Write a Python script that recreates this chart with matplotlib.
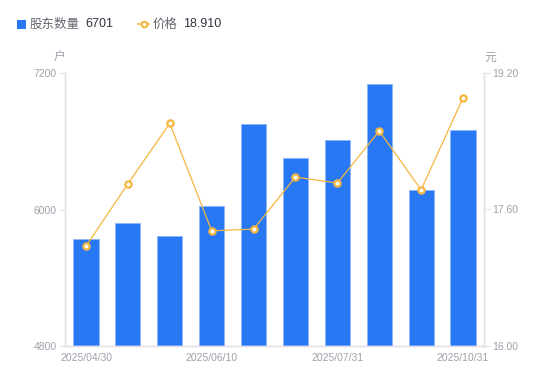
import matplotlib
matplotlib.use("Agg")
import matplotlib.pyplot as plt
import numpy
from matplotlib.lines import Line2D
from matplotlib.patches import Rectangle

dates = ["2025/04/30", "2025/05/20", "2025/05/31", "2025/06/10", "2025/06/20",
         "2025/06/30", "2025/07/31", "2025/08/31", "2025/09/30", "2025/10/31"]
holders = [5740, 5880, 5765, 6030, 6752, 6455, 6610, 7105, 6170, 6701]
price = [17.17, 17.90, 18.61, 17.35, 17.37, 17.98, 17.91, 18.52, 17.83, 18.91]
shown_dates = ["2025/04/30", "2025/06/10", "2025/07/31", "2025/10/31"]

blue = "#2878f5"
orange = "#f5b53f"
axis_grey = "#e3e3e6"
tick_grey = "#a0a0aa"
num_font = ["Liberation Sans", "DejaVu Sans"]
cjk_font = ["Noto Sans CJK SC", "DejaVu Sans"]

fig = plt.figure(figsize=(5.5, 3.81), dpi=100)
ax = fig.add_axes([65/550, 1-346/381, 419/550, 273/381])
ax2 = ax.twinx()

x = numpy.arange(len(dates))
ax.bar(x, holders, width=0.6, color=blue, edgecolor="#8db5f7", linewidth=0.6, zorder=2)
ax.set_xlim(-0.5, len(dates)-0.5)
ax.set_ylim(4800, 7200)
ax.set_yticks([4800, 6000, 7200])

ax2.plot(x, price, color=orange, linewidth=0.9, marker="o", markersize=4.5,
         markerfacecolor="white", markeredgecolor=orange, markeredgewidth=1.6, zorder=3)
ax2.set_ylim(16.0, 19.2)
ax2.set_yticks([16.0, 17.6, 19.2])
ax2.set_yticklabels(["%.2f" % v for v in [16.0, 17.6, 19.2]])

ax.set_xticks([dates.index(d) for d in shown_dates])
ax.set_xticklabels(shown_dates)

for a in (ax, ax2):
    a.spines["top"].set_visible(False)
    for side in ("left", "right", "bottom"):
        a.spines[side].set_color(axis_grey)
        a.spines[side].set_linewidth(1.0)
    a.tick_params(axis="y", colors=axis_grey, labelcolor=tick_grey, length=4, width=0.8,
                  labelsize=7.5, pad=2)
    for lab in a.get_yticklabels():
        lab.set_family(num_font)
ax.tick_params(axis="x", length=0, labelcolor=tick_grey, labelsize=7.5, pad=5)
for lab in ax.get_xticklabels():
    lab.set_family(num_font)

fig.text(59/550, 1-57/381, "户", family=cjk_font, fontsize=8.5, color=tick_grey,
         ha="center", va="center")
fig.text(490/550, 1-57/381, "元", family=cjk_font, fontsize=8.5, color=tick_grey,
         ha="center", va="center")

# legend drawn by hand across the top
ly = 1-24/381
fig.patches.append(Rectangle((17/550, ly-4.5/381), 9/550, 9/381, transform=fig.transFigure,
                             facecolor=blue, edgecolor="none"))
fig.text(30/550, ly, "股东数量", family=cjk_font, fontsize=9, color="#666670", va="center")
fig.text(85/550, ly, "6701", family=num_font, fontsize=9, color="#333340", va="center")
fig.lines.append(Line2D([138/550, 149/550], [ly, ly], transform=fig.transFigure,
                        color=orange, linewidth=1.2))
fig.lines.append(Line2D([143.5/550], [ly], transform=fig.transFigure, marker="o",
                        markersize=4, markerfacecolor="white", markeredgecolor=orange,
                        markeredgewidth=1.5))
fig.text(153/550, ly, "价格", family=cjk_font, fontsize=9, color="#666670", va="center")
fig.text(183/550, ly, "18.910", family=num_font, fontsize=9, color="#333340", va="center")

fig.savefig("out.png", dpi=100)
